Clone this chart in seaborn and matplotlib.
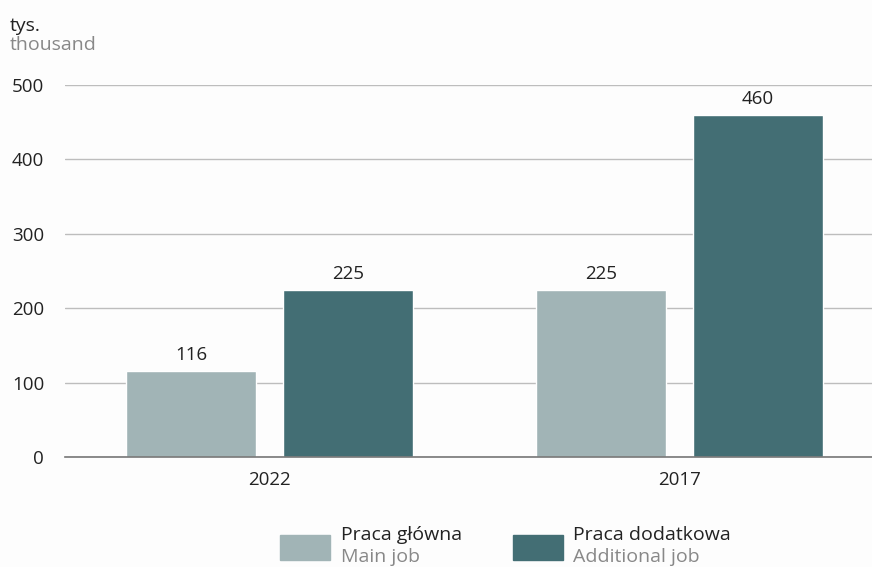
import seaborn as sns
import matplotlib.pyplot as plt
import matplotlib.patches as mpatches
import pandas as pd

years = ['2022', '2017']
main_job = [116, 225]
additional_job = [225, 460]
series_pl = ['Praca główna', 'Praca dodatkowa']
series_en = ['Main job', 'Additional job']
colors = ['#a1b4b6', '#436e74']

df = pd.DataFrame({
    'Rok': years * 2,
    'Seria': [series_pl[0]] * 2 + [series_pl[1]] * 2,
    'Wartość': main_job + additional_job,
})

sns.set_style('white')
plt.rcParams['font.family'] = ['Open Sans', 'DejaVu Sans']
bg = '#fdfdfd'

fig = plt.figure(figsize=(8.72, 5.67), dpi=100, facecolor=bg)
ax = fig.add_axes([0.0745, 0.194, 0.9255, 0.656], facecolor=bg)

sns.barplot(data=df, x='Rok', y='Wartość', hue='Seria', palette=colors,
            width=0.766, gap=0.17, saturation=1, legend=False, ax=ax)

for cont in ax.containers:
    ax.bar_label(cont, fmt='%d', padding=5, fontsize=13.5, color='#222222')

ax.set_ylim(0, 500)
ax.set_xlim(-0.499, 1.47)
ax.set_yticks([0, 100, 200, 300, 400, 500])
ax.yaxis.grid(True, color='#bdbdbd', linewidth=1)
ax.set_axisbelow(True)
ax.set_xlabel('')
ax.set_ylabel('')
for s in ['left', 'right', 'top']:
    ax.spines[s].set_visible(False)
ax.spines['bottom'].set_color('#777777')
ax.spines['bottom'].set_linewidth(1.2)
ax.tick_params(axis='y', length=0, pad=15, labelsize=13.5, labelcolor='#222222')
ax.tick_params(axis='x', length=0, pad=10, labelsize=13.5, labelcolor='#222222')

fig.text(0.011, 0.955, 'tys.', fontsize=14, color='#222222', va='center')
fig.text(0.011, 0.921, 'thousand', fontsize=14, color='#888888', va='center')

# custom legend
leg_items = [(0.321, 0.391), (0.588, 0.657)]
for (px, tx), c, pl, en in zip(leg_items, colors, series_pl, series_en):
    fig.patches.append(mpatches.Rectangle((px, 0.012), 0.0575, 0.044, color=c,
                                          transform=fig.transFigure, figure=fig))
    fig.text(tx, 0.056, pl, fontsize=14, color='#222222', va='center')
    fig.text(tx, 0.018, en, fontsize=14, color='#888888', va='center')

fig.savefig('out.png', dpi=100, facecolor=bg)
